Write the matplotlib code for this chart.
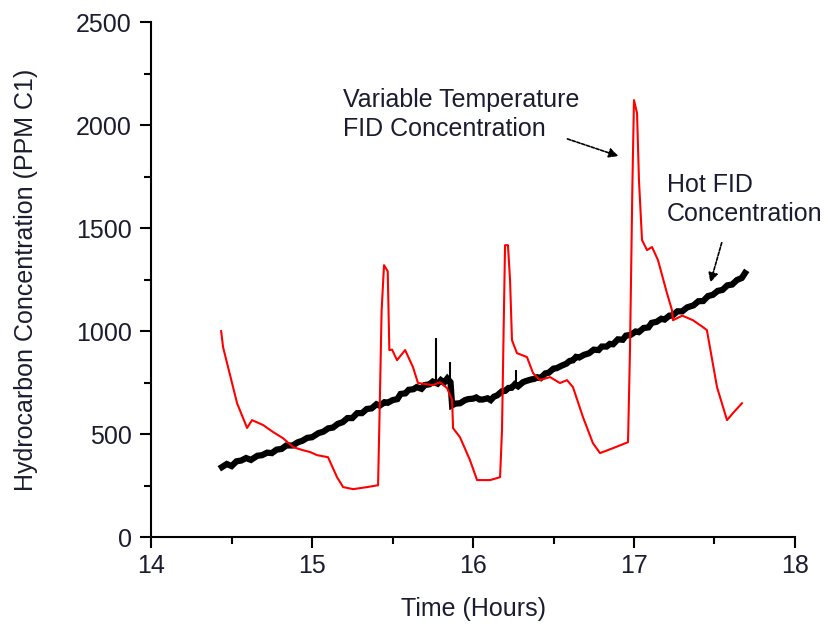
import matplotlib.pyplot as plt
from matplotlib.ticker import MultipleLocator

plt.rcParams['font.family'] = ['Liberation Sans', 'DejaVu Sans']

# Hot FID concentration (black, noisy)
hot_t = [14.44, 14.47, 14.50, 14.53, 14.56, 14.59, 14.62, 14.66, 14.69, 14.72, 14.75,
         14.78, 14.81, 14.84, 14.88, 14.91, 14.94, 14.97, 15.00, 15.04, 15.07, 15.10,
         15.13, 15.16, 15.19, 15.22, 15.25, 15.28, 15.31, 15.34, 15.37, 15.40, 15.42,
         15.45, 15.47, 15.50, 15.53, 15.55, 15.58, 15.60, 15.63, 15.65, 15.68, 15.70,
         15.73, 15.75, 15.78, 15.80, 15.82, 15.84, 15.86, 15.87, 15.89, 15.92, 15.95,
         15.97, 16.00, 16.02, 16.04, 16.06, 16.09, 16.11, 16.13, 16.15, 16.18, 16.20,
         16.22, 16.24, 16.26, 16.28, 16.31, 16.33, 16.36, 16.38, 16.40, 16.42, 16.45,
         16.47, 16.50, 16.52, 16.55, 16.58, 16.60, 16.62, 16.64, 16.66, 16.69, 16.72,
         16.75, 16.78, 16.80, 16.83, 16.85, 16.87, 16.90, 16.93, 16.95, 16.98, 17.01,
         17.03, 17.06, 17.09, 17.11, 17.14, 17.17, 17.19, 17.22, 17.24, 17.27, 17.30,
         17.33, 17.37, 17.40, 17.43, 17.46, 17.49, 17.52, 17.55, 17.58, 17.61, 17.64,
         17.67, 17.69]
hot_v = [340, 355, 345, 368, 372, 384, 375, 395, 398, 410, 408,
         425, 428, 445, 445, 460, 468, 482, 485, 505, 512, 528,
         532, 550, 558, 578, 578, 602, 602, 622, 625, 645, 638,
         655, 652, 665, 670, 695, 698, 715, 718, 728, 720, 738,
         742, 755, 745, 762, 750, 770, 752, 640, 648, 650, 665,
         670, 672, 678, 668, 668, 674, 665, 682, 688, 708, 710,
         724, 725, 742, 732, 752, 758, 765, 768, 776, 772, 795,
         798, 818, 820, 832, 842, 855, 858, 875, 872, 885, 892,
         910, 908, 925, 925, 938, 936, 960, 958, 978, 982, 998,
         995, 1015, 1018, 1040, 1045, 1060, 1056, 1075, 1076, 1096, 1096,
         1115, 1125, 1145, 1146, 1170, 1176, 1195, 1200, 1222, 1226, 1248,
         1258, 1282]

# thin spikes on the hot FID trace
spike_t = [15.77, 15.86, 16.27]
spike_lo = [748, 755, 740]
spike_hi = [965, 850, 810]

# Variable temperature FID concentration (red)
var_t = [14.435, 14.447, 14.478, 14.534, 14.596, 14.627, 14.696, 14.758, 14.820,
         14.882, 14.944, 14.988, 15.031, 15.099, 15.155, 15.193, 15.255, 15.342,
         15.410, 15.422, 15.432, 15.447, 15.470, 15.480, 15.497, 15.528, 15.578,
         15.627, 15.658, 15.752, 15.795, 15.839, 15.870, 15.876, 15.919, 15.981,
         16.025, 16.106, 16.168, 16.180, 16.190, 16.199, 16.217, 16.230, 16.242,
         16.273, 16.335, 16.373, 16.416, 16.478, 16.540, 16.584, 16.621, 16.683,
         16.745, 16.789, 16.870, 16.963, 16.975, 16.981, 16.990, 17.000, 17.019,
         17.031, 17.050, 17.081, 17.112, 17.149, 17.205, 17.236, 17.242, 17.300,
         17.366, 17.429, 17.453, 17.516, 17.578, 17.615, 17.671]
var_v = [1000, 922, 825, 650, 530, 568, 544, 510, 480,
         437, 422, 413, 398, 388, 291, 243, 233, 243,
         252, 700, 1100, 1320, 1290, 908, 910, 859, 908,
         825, 748, 738, 752, 723, 665, 529, 485, 374,
         277, 277, 291, 519, 1000, 1417, 1417, 1248, 956,
         893, 874, 796, 762, 777, 748, 762, 728, 583,
         456, 408, 432, 461, 900, 1214, 1700, 2121, 2058,
         1733, 1442, 1393, 1408, 1345, 1184, 1102, 1053, 1075,
         1053, 1019, 1005, 728, 568, 602, 650]

fig = plt.figure(figsize=(8.35, 6.29), dpi=100)
ax = fig.add_axes([0.181, 0.146, 0.771, 0.819])

ax.plot(hot_t, hot_v, color='black', lw=4.5, solid_joinstyle='miter')
ax.vlines(spike_t, spike_lo, spike_hi, color='black', lw=1.5)
ax.plot(var_t, var_v, color='#ff0000', lw=1.5)

ax.set_xlim(14, 18)
ax.set_ylim(0, 2500)
ax.xaxis.set_major_locator(MultipleLocator(1))
ax.xaxis.set_minor_locator(MultipleLocator(0.5))
ax.yaxis.set_major_locator(MultipleLocator(500))
ax.yaxis.set_minor_locator(MultipleLocator(250))

for s in ['top', 'right']:
    ax.spines[s].set_visible(False)
for s in ['left', 'bottom']:
    ax.spines[s].set_linewidth(1.5)

txt = '#1c1c30'
ax.tick_params(which='major', direction='out', length=8, width=1.5,
               labelsize=18, labelcolor=txt, pad=6)
ax.tick_params(axis='x', which='major', pad=4)
ax.tick_params(which='minor', direction='out', length=5, width=1.5)

ax.set_xlabel('Time (Hours)', fontsize=18, color=txt, labelpad=14)
ax.set_ylabel('Hydrocarbon Concentration (PPM C1)', fontsize=18, color=txt, labelpad=27)

arrow = dict(arrowstyle='-|>', color='black', lw=1.2, linestyle=(0, (2, 1)),
             mutation_scale=14)
ax.text(15.19, 2178, 'Variable Temperature\nFID Concentration', fontsize=18,
        color=txt, va='top', ha='left', linespacing=1.25)
ax.annotate('', xy=(16.92, 1845), xytext=(16.57, 1937), arrowprops=arrow)
ax.text(17.205, 1765, 'Hot FID\nConcentration', fontsize=18,
        color=txt, va='top', ha='left', linespacing=1.25, clip_on=False)
ax.annotate('', xy=(17.47, 1223), xytext=(17.55, 1442), arrowprops=arrow)

fig.savefig('out.png', dpi=100)
